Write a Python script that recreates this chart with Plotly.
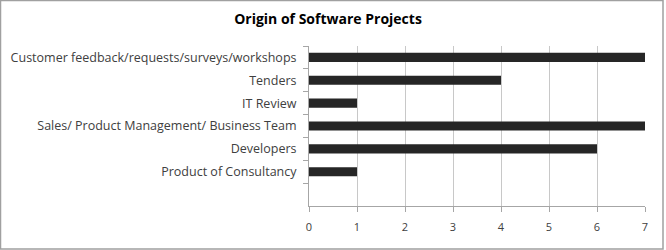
import plotly.graph_objects as go

categories = ["Customer feedback/requests/surveys/workshops", "Tenders", "IT Review",
              "Sales/ Product Management/ Business Team", "Developers",
              "Product of Consultancy", " "]
values = [7, 4, 1, 7, 6, 1, None]
x_ticks = [0, 1, 2, 3, 4, 5, 6, 7]

W, H = 666, 250
L, R, T, B = 309, 21, 46, 44
pw, ph = W - L - R, H - T - B

fig = go.Figure(go.Bar(
    y=categories, x=values, orientation="h",
    marker=dict(color="#262626", line=dict(width=0)),
    width=0.4,
))

def px(x):
    return (x - L) / pw

def py(y):
    return 1 - (y - T) / ph

fig.update_layout(
    width=W, height=H,
    margin=dict(l=L, r=R, t=T, b=B),
    paper_bgcolor="white", plot_bgcolor="white",
    showlegend=False,
    font=dict(family="Open Sans", color="#404040", size=11),
    title=dict(text="<b>Origin of Software Projects</b>", x=328 / W, xanchor="center",
               y=1 - 19 / H, yanchor="middle",
               font=dict(family="Open Sans", size=14, color="#000000")),
    xaxis=dict(range=[0, 7], tickvals=x_ticks, showgrid=True, gridcolor="#c8c8c8",
               gridwidth=1, showline=True, linecolor="#a6a6a6", linewidth=1,
               ticks="outside", ticklen=5, tickcolor="#a6a6a6", zeroline=False,
               tickfont=dict(size=11, color="#404040"), ticklabelstandoff=6,
               fixedrange=True),
    yaxis=dict(categoryorder="array", categoryarray=categories, autorange="reversed",
               showline=True, linecolor="#a6a6a6", linewidth=1, ticks="outside",
               tickson="boundaries", ticklen=5, tickcolor="#a6a6a6", showgrid=False,
               tickfont=dict(size=12.5, color="#404040"), ticklabelstandoff=9,
               automargin=False),
    shapes=[dict(type="rect", xref="paper", yref="paper",
                 x0=px(0.5), x1=px(663), y0=py(0.5), y1=py(249),
                 line=dict(color="#a0a0a0", width=1.5), fillcolor="rgba(0,0,0,0)")],
)

fig.write_html("out.html")
